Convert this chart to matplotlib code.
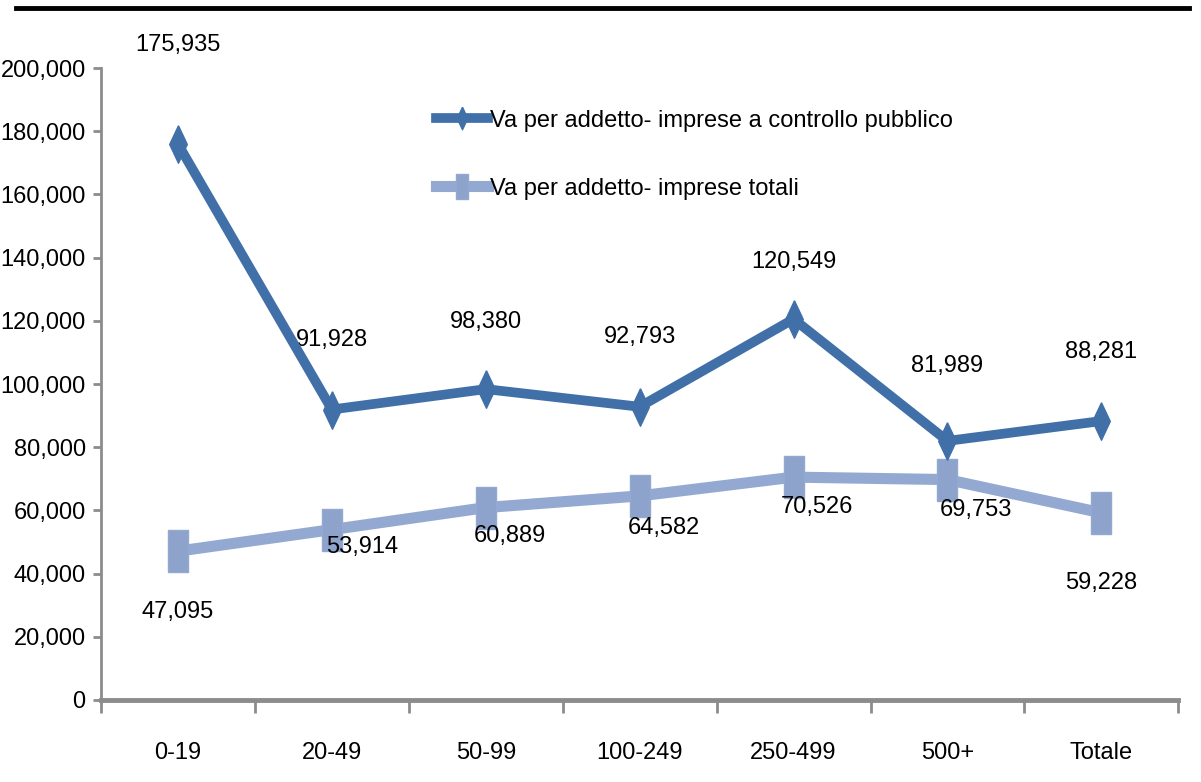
import matplotlib
matplotlib.use('Agg')
import matplotlib.pyplot as plt
from matplotlib.lines import Line2D
from matplotlib.ticker import FuncFormatter

# font con metriche tipo Arial
plt.rcParams['font.family'] = ['Liberation Sans', 'DejaVu Sans']

# dati
classi = ['0-19', '20-49', '50-99', '100-249', '250-499', '500+', 'Totale']
va_pubblico = [175935, 91928, 98380, 92793, 120549, 81989, 88281]
va_totali = [47095, 53914, 60889, 64582, 70526, 69753, 59228]
nome_pubblico = 'Va per addetto- imprese a controllo pubblico'
nome_totali = 'Va per addetto- imprese totali'

# offset etichette (pixel)
off_pubblico = [(0, 99), (0, 70), (0, 67), (0, 70), (0, 57), (0, 75), (0, 69)]
off_totali = [(0, -61), (30, -17), (24, -28), (24, -32), (23, -30), (28, -30), (0, -70)]

col_scuro = '#4170A8'
col_chiaro = '#93A9D1'
col_assi = '#8C8C8C'

diamante = [(0, 1), (0.47, 0), (0, -1), (-0.47, 0), (0, 1)]
rettangolo = [(-0.5, -1), (0.5, -1), (0.5, 1), (-0.5, 1), (-0.5, -1)]

fig = plt.figure(figsize=(12.01, 7.82), dpi=100)
ax = fig.add_axes([0.0841, 0.1049, 0.897, 0.8081])

x = list(range(len(classi)))
ax.plot(x, va_totali, color=col_chiaro, lw=8, marker=rettangolo, ms=30,
        mec=col_chiaro, mfc='#8DA3CC', label=nome_totali, zorder=3)
ax.plot(x, va_pubblico, color=col_scuro, lw=7, marker=diamante, ms=27,
        mec=col_scuro, mfc=col_scuro, label=nome_pubblico, zorder=4)

fs = 17
for i, v in enumerate(va_pubblico):
    ax.annotate(f'{v:,}', (x[i], v), xytext=off_pubblico[i], textcoords='offset pixels',
                ha='center', va='center', fontsize=fs, color='black')
for i, v in enumerate(va_totali):
    ax.annotate(f'{v:,}', (x[i], v), xytext=off_totali[i], textcoords='offset pixels',
                ha='center', va='center', fontsize=fs, color='black')

ax.set_xlim(-0.5, len(classi) - 0.5)
ax.set_ylim(0, 200000)
ax.set_yticks(range(0, 200001, 20000))
ax.yaxis.set_major_formatter(FuncFormatter(lambda v, p: f'{int(v):,}'))
ax.set_xticks(x)
ax.set_xticklabels(classi)
ax.set_xticks([i - 0.5 for i in range(len(classi) + 1)], minor=True)

ax.tick_params(axis='x', which='major', length=0, pad=30, labelsize=fs)
ax.tick_params(axis='x', which='minor', length=9, width=2, color=col_assi, direction='out')
ax.tick_params(axis='y', length=6, width=2, color=col_assi, labelsize=fs, pad=5)

for s in ['top', 'right']:
    ax.spines[s].set_visible(False)
ax.spines['left'].set_color(col_assi)
ax.spines['left'].set_linewidth(2)
ax.spines['bottom'].set_color(col_assi)
ax.spines['bottom'].set_linewidth(3.5)

# legenda
h, l = ax.get_legend_handles_labels()
ax.legend(h[::-1], l[::-1], loc='upper left', bbox_to_anchor=(0.291, 0.968), frameon=False,
          fontsize=fs, handlelength=2.2, handletextpad=0.1, labelspacing=1.95, markerscale=0.6)

# linea nera in alto
fig.add_artist(Line2D([0.013, 0.99], [0.9898, 0.9898], color='black', lw=3.5,
                      transform=fig.transFigure))

plt.savefig('out.png', dpi=100)
